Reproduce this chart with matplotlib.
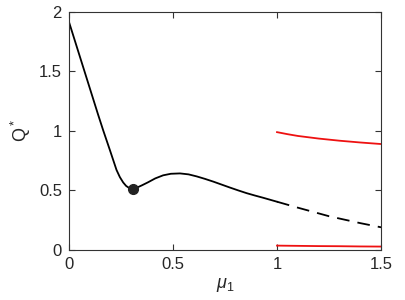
import numpy as np
import matplotlib
matplotlib.use('Agg')
from matplotlib import pyplot as plt

# solid black branch (stable)
mu_solid = [0.0, 0.035, 0.07, 0.105, 0.14, 0.165, 0.197, 0.229, 0.245, 0.261, 0.275, 0.29, 0.306,
            0.325, 0.35, 0.38, 0.415, 0.453, 0.49, 0.534, 0.575, 0.614, 0.654, 0.694, 0.734,
            0.774, 0.814, 0.854, 0.894, 0.934, 0.968, 1.0]
q_solid = [1.92, 1.725, 1.53, 1.335, 1.14, 1.005, 0.84, 0.672, 0.612, 0.567, 0.538, 0.52, 0.513,
           0.522, 0.542, 0.568, 0.601, 0.627, 0.640, 0.643, 0.635, 0.618, 0.597, 0.574, 0.549,
           0.524, 0.50, 0.477, 0.457, 0.438, 0.421, 0.405]

# dashed black branch (unstable)
mu_dash = [1.0, 1.1, 1.25, 1.4, 1.5]
q_dash = [0.405, 0.355, 0.283, 0.225, 0.19]

# red branches
mu_red = [1.0, 1.05, 1.1, 1.2, 1.3, 1.4, 1.5]
q_red_top = [0.99, 0.973, 0.958, 0.936, 0.918, 0.903, 0.89]
q_red_bot = [0.036, 0.035, 0.034, 0.032, 0.031, 0.029, 0.028]

# bifurcation point
mu_pt = [0.306]
q_pt = [0.513]

plt.rcParams['font.family'] = ['Liberation Sans', 'DejaVu Sans']
plt.rcParams['mathtext.fontset'] = 'custom'
plt.rcParams['mathtext.it'] = 'Liberation Sans:italic'
plt.rcParams['mathtext.rm'] = 'Liberation Sans'

fig = plt.figure(figsize=(4.05, 3.0), dpi=100)
ax = fig.add_axes([0.170, 0.167, 0.771, 0.793])

ax.plot(mu_solid, q_solid, color='black', lw=1.3)
ax.plot(mu_dash, q_dash, color='black', lw=1.3, linestyle=(0, (7, 4.5)))
ax.plot(mu_red, q_red_top, color='#ee1111', lw=1.3)
ax.plot(mu_red, q_red_bot, color='#ee1111', lw=1.3)
ax.plot(mu_pt, q_pt, 'o', color='#222222', markersize=7)

ax.set_xlim(0, 1.5)
ax.set_ylim(0, 2)
ax.set_xticks([0, 0.5, 1, 1.5])
ax.set_xticklabels(['0', '0.5', '1', '1.5'])
ax.set_yticks([0, 0.5, 1, 1.5, 2])
ax.set_yticklabels(['0', '0.5', '1', '1.5', '2'])

gray = '#333333'
for s in ax.spines.values():
    s.set_color(gray)
    s.set_linewidth(0.8)
ax.tick_params(direction='in', top=True, right=True, length=4, width=0.8,
               colors=gray, labelsize=12, labelcolor='#262626', pad=5)

ax.set_xlabel(r'$\mu_1$', fontsize=13, color='#262626', labelpad=3)
ax.set_ylabel(r'Q$^*$', fontsize=13, color='#262626', labelpad=4)

fig.savefig('out.png', dpi=100)
